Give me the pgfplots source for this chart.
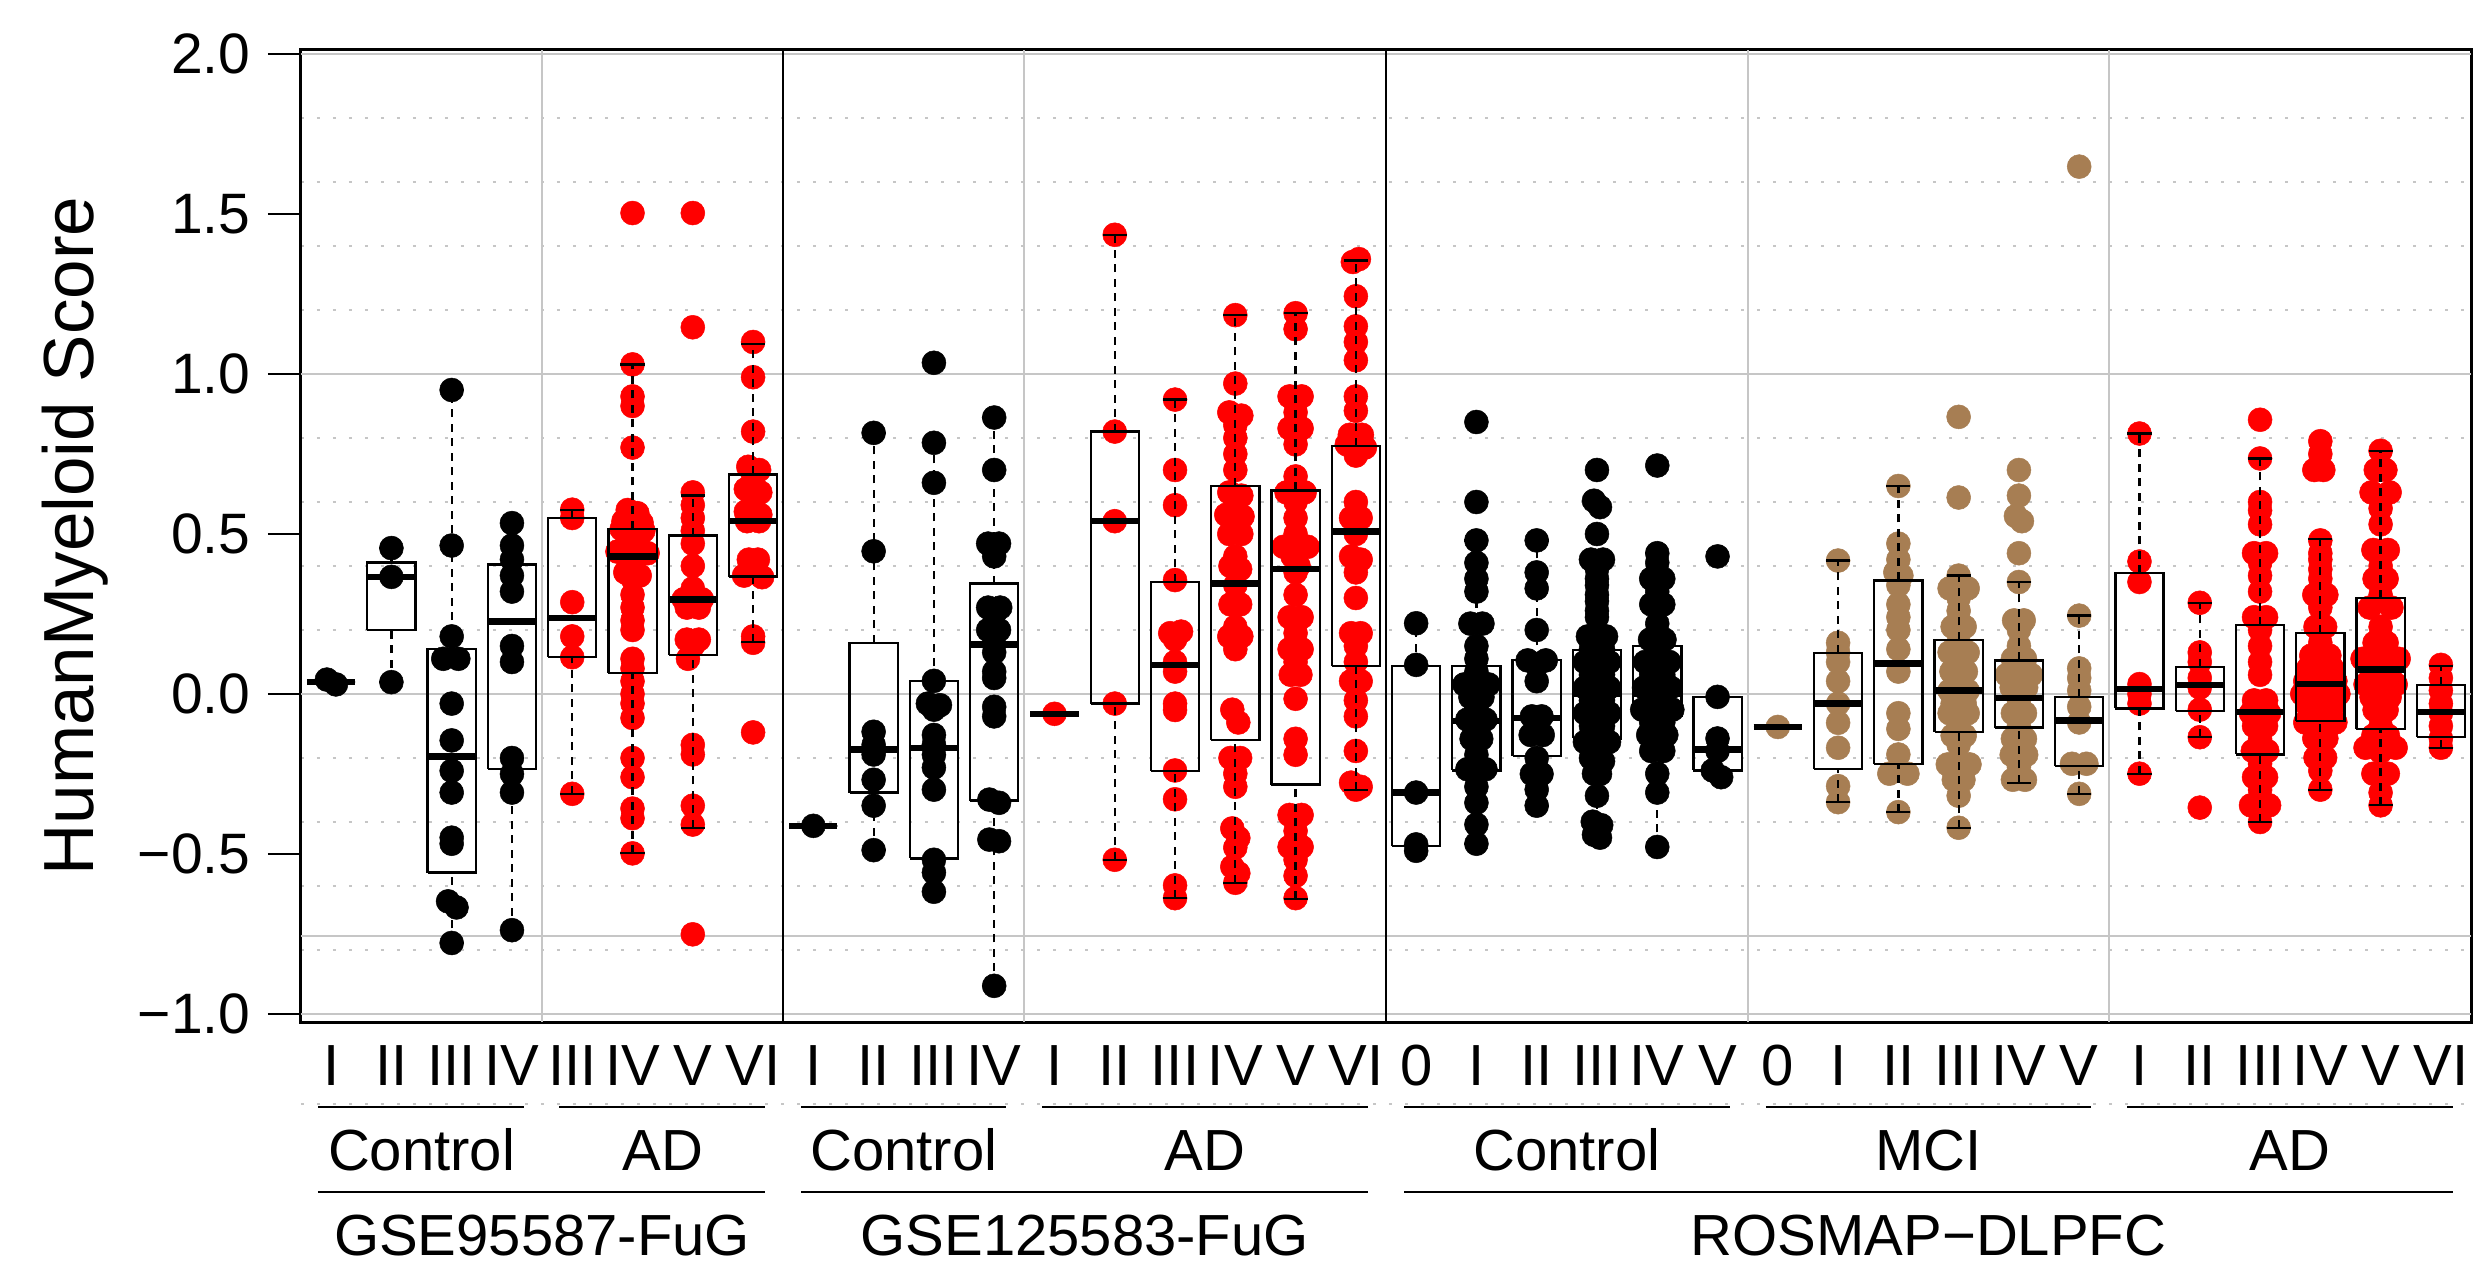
\documentclass[border=0pt]{standalone}
\usepackage{fontspec}
\setmainfont{Liberation Sans}
\usepackage{pgfplots}
\pgfplotsset{compat=1.18}
\definecolor{tanc}{RGB}{167,126,83}
\definecolor{redc}{RGB}{255,0,0}
\newcommand{\labfont}{\fontsize{11.6}{13.5}\selectfont}
\pgfplotsset{
  pts/.style={only marks, mark=*, mark size=2.4pt, color=#1, mark options={solid, fill=#1, draw=#1, line width=0.1pt}},
  bxs/.style={black, mark=none, solid, line width=0.45pt, line join=miter},
  bxw/.style={black, mark=none, line width=0.45pt, dash pattern=on 1.6pt off 1.3pt},
  bxm/.style={black, mark=none, solid, line width=1.3pt, line cap=butt},
}
% box: #1 position, #2 lower whisker, #3 lower quartile, #4 median, #5 upper quartile, #6 upper whisker
\newcommand{\bp}[6]{%
  \pgfmathsetmacro{\xa}{#1-0.4}\pgfmathsetmacro{\xb}{#1+0.4}%
  \pgfmathsetmacro{\ca}{#1-0.2}\pgfmathsetmacro{\cb}{#1+0.2}%
  \edef\tmp{%
    \noexpand\addplot[bxw] coordinates {(#1,#2) (#1,#3)};
    \noexpand\addplot[bxw] coordinates {(#1,#5) (#1,#6)};
    \noexpand\addplot[bxs] coordinates {(\ca,#2) (\cb,#2)};
    \noexpand\addplot[bxs] coordinates {(\ca,#6) (\cb,#6)};
    \noexpand\addplot[bxs] coordinates {(\xa,#3) (\xb,#3) (\xb,#5) (\xa,#5) (\xa,#3)};
    \noexpand\addplot[bxm] coordinates {(\xa,#4) (\xb,#4)};
  }\tmp}
\newcommand{\rl}[2]{\node[anchor=base, yshift=-12.6pt, font=\labfont, inner sep=0pt] at (axis cs:#1,-1.025) {#2};}
\newcommand{\gl}[3]{\draw[line width=0.4pt] ([yshift=-#3]axis cs:#1,-1.025) -- ([yshift=-#3]axis cs:#2,-1.025);}
\newcommand{\gt}[3]{\node[anchor=base, yshift=-#3, font=\labfont, inner sep=0pt] at (axis cs:#1,-1.025) {#2};}
\begin{document}
\begin{tikzpicture}
\useasboundingbox (-60.2pt,-50.2pt) rectangle (434.4pt,204.4pt);
\begin{axis}[
  at={(0,0)}, anchor=south west,
  scale only axis, width=434pt, height=194.4pt,
  xmin=0.5, xmax=36.5, ymin=-1.025, ymax=2.0125,
  axis line style={line width=0.6pt},
  xtick=\empty,
  ytick={-1,-0.5,0,0.5,1,1.5,2},
  yticklabels={−1.0,−0.5,0.0,0.5,1.0,1.5,2.0},
  ytick pos=left,
  tick align=outside, major tick length=6.6pt,
  tick style={black, line width=0.5pt},
  yticklabel style={font=\fontsize{11.4}{13}\selectfont},
  minor ytick={-0.8,-0.6,-0.4,-0.2,0.2,0.4,0.6,0.8,1.2,1.4,1.6,1.8},
  yminorgrids, minor tick length=0pt,
  minor grid style={gray!45, dash pattern=on 0.6pt off 2.6pt, line width=0.4pt},
  major grid style={gray!45, line width=0.45pt},
  extra y ticks={-1,-0.757,0,1,2}, extra y tick labels={},
  extra y tick style={grid=major, major tick length=0pt},
  extra x ticks={4.5,12.5,24.5,30.5}, extra x tick labels={},
  extra x tick style={grid=major, major tick length=0pt},
  clip mode=individual,
  ylabel={HumanMyeloid Score},
  ylabel style={font=\fontsize{14.2}{16}\selectfont, at={(axis description cs:-0.0954,0.5)}, anchor=base},
]
% dataset separators
\addplot[black, mark=none, line width=0.5pt] coordinates {(8.5,-2) (8.5,3)};
\addplot[black, mark=none, line width=0.5pt] coordinates {(18.5,-2) (18.5,3)};

% ---------- points: GSE95587-FuG ----------
\addplot[pts=black] coordinates {
(0.93,0.045) (1.08,0.03)
(2,0.456) (2,0.366) (2,0.037)
(3,0.95) (3,0.464) (3,0.18) (2.86,0.11) (3.11,0.11) (3,-0.03) (3,-0.145) (3,-0.24) (3,-0.308) (3,-0.449) (3,-0.468) (2.94,-0.648) (3.08,-0.667) (3,-0.778)
(4,0.534) (4,0.464) (4,0.42) (4,0.37) (4,0.32) (4,0.15) (4,0.10) (4,-0.2) (4,-0.25) (4,-0.308) (4,-0.738)
};
\addplot[pts=redc] coordinates {
(5,0.576) (5,0.55) (5,0.287) (5,0.18) (5,0.115) (5,-0.312)
(6,1.503) (6,1.03) (6,0.93) (6,0.90) (6,0.77) (5.92,0.575) (6.08,0.565) (5.85,0.54) (6,0.545) (6.15,0.535) (5.82,0.515) (6.18,0.51) (5.9,0.5) (6.1,0.49) (5.75,0.445) (6.25,0.44) (5.92,0.45) (6.08,0.43) (6,0.41) (5.88,0.38) (6.12,0.37) (6,0.36) (6,0.31) (6,0.27) (6,0.23) (6,0.2) (6,0.11) (6,0.08) (6,0.04) (6,0.0) (6,-0.03) (6,-0.075) (6,-0.2) (6,-0.26) (6,-0.358) (6,-0.388) (6,-0.498)
(7,1.503) (7,1.146) (7,0.63) (7,0.59) (7,0.55) (7,0.51) (7,0.47) (7,0.40) (7,0.33) (6.85,0.296) (7,0.29) (7.15,0.296) (6.9,0.27) (7.1,0.27) (6.9,0.17) (7.1,0.17) (7,0.15) (6.92,0.11) (7,-0.159) (7,-0.189) (7,-0.349) (7,-0.408) (7,-0.751)
(8,1.1) (8,0.99) (8,0.82) (7.92,0.71) (8.1,0.70) (8,0.67) (7.88,0.64) (8.12,0.63) (8,0.60) (7.88,0.57) (8.12,0.56) (7.9,0.54) (8.1,0.54) (7.93,0.42) (8.08,0.42) (7.85,0.37) (8.15,0.365) (8,0.18) (8,0.16) (8,-0.12)
};
% ---------- points: GSE125583-FuG ----------
\addplot[pts=black] coordinates {
(9,-0.412)
(10,0.816) (10,0.446) (10,-0.118) (10,-0.159) (10,-0.189) (10,-0.268) (10,-0.349) (10,-0.488)
(11,1.035) (11,0.785) (11,0.66) (11,0.041) (10.9,-0.03) (11.1,-0.035) (11,-0.049) (11,-0.128) (11,-0.158) (11,-0.19) (11,-0.23) (11,-0.299) (11,-0.518) (11,-0.558) (11,-0.618)
(12,0.864) (12,0.70) (11.9,0.47) (12.08,0.47) (12,0.43) (11.9,0.27) (12.1,0.27) (12,0.25) (11.9,0.20) (12.08,0.20) (12,0.18) (12,0.13) (12,0.07) (12,0.05) (12,-0.04) (12,-0.07) (11.92,-0.33) (12.08,-0.34) (11.92,-0.455) (12.08,-0.46) (12,-0.912)
};
\addplot[pts=redc] coordinates {
(13,-0.062)
(14,1.435) (14,0.82) (14,0.54) (14,-0.03) (14,-0.518)
(15,0.92) (15,0.70) (15,0.59) (15,0.356) (14.92,0.19) (15.1,0.195) (15,0.17) (15,0.10) (15,0.07) (15,-0.03) (15,-0.05) (15,-0.239) (15,-0.329) (15,-0.598) (15,-0.638)
(16,1.184) (16,0.97) (15.9,0.88) (16.1,0.87) (16,0.84) (16,0.80) (16,0.75) (16,0.70) (15.9,0.63) (16.1,0.62) (16,0.60) (15.85,0.56) (16.12,0.555) (16,0.53) (15.9,0.50) (16.1,0.50) (16,0.43) (15.92,0.40) (16.08,0.39) (16,0.34) (15.92,0.28) (16.08,0.28) (16,0.21) (15.9,0.18) (16.1,0.18) (16,0.14) (15.95,-0.049) (16.05,-0.089) (15.92,-0.20) (16.08,-0.20) (16,-0.249) (16,-0.29) (15.95,-0.42) (16.05,-0.45) (16,-0.48) (15.95,-0.54) (16.05,-0.56) (16,-0.59)
(17,1.19) (17,1.14) (16.9,0.93) (17.1,0.93) (17,0.88) (16.9,0.83) (17.1,0.83) (17,0.78) (17,0.68) (16.85,0.63) (17.15,0.63) (17,0.60) (17,0.55) (17,0.50) (16.8,0.46) (17.2,0.46) (16.95,0.43) (17.05,0.40) (17,0.38) (17,0.31) (16.9,0.24) (17.1,0.24) (17,0.19) (16.9,0.14) (17.1,0.14) (17,0.10) (16.92,0.06) (17.08,0.06) (17,-0.015) (17,-0.14) (17,-0.19) (16.9,-0.378) (17.1,-0.378) (17,-0.428) (16.9,-0.478) (17.1,-0.478) (17,-0.518) (17,-0.568) (17,-0.638)
(18.05,1.359) (17.95,1.35) (18,1.243) (18,1.149) (18,1.10) (18,1.043) (18,0.93) (18,0.885) (17.9,0.81) (18.1,0.81) (17.85,0.78) (18.15,0.77) (18,0.745) (18,0.60) (17.92,0.55) (18.08,0.55) (18,0.50) (17.92,0.43) (18.08,0.42) (18,0.38) (18,0.30) (17.92,0.19) (18.08,0.19) (18,0.15) (18,0.10) (17.92,0.04) (18.08,0.04) (18,-0.02) (18,-0.07) (18,-0.178) (17.92,-0.277) (18.08,-0.29) (18,-0.299)
};
% ---------- points: ROSMAP-DLPFC ----------
\addplot[pts=black] coordinates {
(19,0.221) (19,0.091) (19,-0.308) (19,-0.47) (19,-0.49)
(20,0.85) (20,0.60) (20,0.48) (20,0.41) (20,0.36) (20,0.32) (19.9,0.22) (20.1,0.22) (20,0.15) (20,0.11) (20,0.07) (19.8,0.03) (20,0.04) (20.2,0.03) (19.9,-0.01) (20.1,-0.01) (20,-0.04) (19.85,-0.08) (20.15,-0.08) (20,-0.09) (19.92,-0.14) (20.08,-0.14) (20,-0.19) (19.85,-0.235) (20.15,-0.235) (20,-0.25) (20,-0.29) (20,-0.34) (20,-0.408) (20,-0.468)
(21,0.48) (21,0.38) (21,0.33) (21,0.20) (20.85,0.105) (21.15,0.105) (21,0.09) (21,0.04) (20.92,-0.07) (21.08,-0.07) (20.9,-0.128) (21.1,-0.128) (21,-0.2) (20.92,-0.25) (21.08,-0.25) (21,-0.299) (21,-0.349)
(22,0.70) (21.95,0.604) (22.05,0.584) (22,0.50) (21.9,0.42) (22.1,0.42) (22,0.39) (22,0.36) (22,0.34) (22,0.31) (22,0.29) (22,0.26) (22,0.24) (21.85,0.18) (22.15,0.18) (22,0.17) (21.9,0.14) (22.1,0.14) (21.8,0.10) (22,0.10) (22.2,0.10) (21.9,0.06) (22.1,0.06) (21.8,0.02) (22,0.02) (22.2,0.02) (21.9,-0.02) (22.1,-0.02) (21.8,-0.06) (22,-0.06) (22.2,-0.06) (21.9,-0.10) (22.1,-0.10) (22,-0.14) (21.8,-0.15) (22.2,-0.15) (21.9,-0.20) (22.1,-0.21) (21.95,-0.249) (22.05,-0.25) (22,-0.318) (21.93,-0.399) (22.07,-0.41) (21.95,-0.44) (22.05,-0.449)
(23,0.714) (23,0.44) (23,0.41) (22.9,0.36) (23.1,0.36) (23,0.32) (22.9,0.28) (23.1,0.28) (23,0.22) (22.88,0.17) (23.12,0.17) (23,0.13) (22.8,0.10) (23,0.10) (23.2,0.10) (22.9,0.06) (23.1,0.06) (22.78,0.02) (23,0.02) (23.22,0.02) (22.9,-0.01) (23.1,-0.01) (22.75,-0.049) (23,-0.049) (23.25,-0.049) (22.9,-0.089) (23.1,-0.089) (22.85,-0.128) (23.15,-0.128) (23,-0.14) (22.9,-0.178) (23.1,-0.178) (23,-0.249) (23,-0.308) (23,-0.478)
(24,0.43) (24,-0.009) (24,-0.139) (24,-0.178) (23.92,-0.239) (24.06,-0.26)
};
\addplot[pts=tanc] coordinates {
(25,-0.103)
(26,0.417) (26,0.16) (26,0.13) (26,0.10) (26,0.04) (26,-0.03) (26,-0.09) (26,-0.168) (26,-0.288) (26,-0.338)
(27,0.65) (27,0.47) (27,0.42) (26.95,0.38) (27.05,0.37) (27,0.34) (27,0.28) (27,0.24) (27,0.20) (27,0.14) (27,0.07) (27,-0.06) (27,-0.109) (27,-0.189) (26.85,-0.249) (27.15,-0.249) (27,-0.369)
(28,0.866) (28,0.614) (28,0.37) (27.85,0.33) (28.15,0.33) (28,0.30) (28,0.26) (27.9,0.21) (28.1,0.21) (28,0.16) (27.85,0.13) (28.15,0.13) (28,0.10) (27.88,0.07) (28.12,0.07) (28,0.04) (27.85,0.01) (28.15,0.01) (28,0.0) (27.9,-0.03) (28.1,-0.03) (27.85,-0.06) (28.15,-0.06) (28,-0.10) (27.9,-0.13) (28.1,-0.13) (28,-0.159) (27.82,-0.22) (28.18,-0.22) (28,-0.23) (27.92,-0.268) (28.08,-0.268) (28,-0.318) (28,-0.418)
(29,0.70) (29,0.62) (28.95,0.556) (29.05,0.54) (29,0.44) (29,0.35) (28.92,0.23) (29.08,0.23) (29,0.20) (29,0.15) (28.9,0.11) (29.1,0.11) (28.8,0.06) (29,0.06) (29.2,0.06) (28.88,0.02) (29.12,0.02) (29,-0.02) (28.9,-0.06) (29.1,-0.06) (29,-0.10) (28.9,-0.14) (29.1,-0.14) (28.88,-0.19) (29.12,-0.19) (29,-0.228) (28.9,-0.268) (29.1,-0.268)
(30,1.648) (30,0.245) (30,0.08) (30,0.05) (30,0.011) (30,-0.04) (30,-0.089) (29.88,-0.218) (30.12,-0.218) (30,-0.312)
};
\addplot[pts=redc] coordinates {
(31,0.814) (31,0.414) (31,0.35) (31,0.031) (31,0.0) (31,-0.03) (31,-0.249)
(32,0.285) (32,0.13) (32,0.10) (32,0.05) (32,0.02) (32,-0.049) (32,-0.135) (32,-0.355)
(33,0.857) (33,0.736) (33,0.60) (33,0.574) (33,0.53) (32.9,0.44) (33.1,0.44) (33,0.41) (33,0.37) (33,0.32) (32.9,0.24) (33.1,0.24) (33,0.20) (33,0.15) (33,0.10) (33,0.06) (32.9,-0.02) (33.1,-0.02) (32.85,-0.06) (33,-0.06) (33.15,-0.06) (32.9,-0.10) (33.1,-0.10) (33,-0.14) (32.88,-0.178) (33.12,-0.178) (33,-0.218) (32.9,-0.26) (33.1,-0.26) (33,-0.3) (32.85,-0.348) (33.15,-0.348) (33,-0.4)
(34,0.79) (34,0.75) (33.9,0.70) (34.05,0.70) (34,0.48) (34,0.44) (34,0.42) (34,0.39) (34,0.36) (33.9,0.31) (34.1,0.31) (34,0.27) (33.92,0.21) (34.08,0.21) (34,0.16) (33.85,0.12) (34.15,0.12) (33.8,0.08) (34,0.08) (34.2,0.08) (33.75,0.04) (34.25,0.04) (33.9,0.04) (34.1,0.04) (33.7,0.0) (34,0.0) (34.3,0.0) (33.8,-0.04) (34.2,-0.04) (34,-0.04) (33.75,-0.089) (34.25,-0.089) (33.95,-0.089) (33.9,-0.139) (34.1,-0.139) (33.92,-0.199) (34.08,-0.199) (34,-0.24) (34,-0.299)
(35,0.76) (34.92,0.70) (35.08,0.70) (34.85,0.63) (35.15,0.63) (35,0.58) (35,0.53) (34.88,0.45) (35.12,0.45) (35,0.40) (34.9,0.36) (35.1,0.36) (35,0.31) (34.82,0.27) (35.18,0.27) (35,0.21) (34.9,0.16) (35.1,0.16) (34.7,0.11) (35,0.11) (35.3,0.11) (34.85,0.07) (35.15,0.07) (34.75,0.03) (35,0.03) (35.25,0.03) (34.85,-0.01) (35.15,-0.01) (34.9,-0.05) (35.1,-0.05) (35,-0.10) (34.88,-0.13) (35.12,-0.13) (34.75,-0.168) (35.25,-0.168) (35,-0.18) (34.88,-0.249) (35.12,-0.249) (35,-0.308) (35,-0.348)
(36,0.091) (36,0.05) (36,0.011) (36,-0.03) (36,-0.06) (36,-0.10) (36,-0.139) (36,-0.168)
};

% ---------- boxes ----------
\bp{1}{0.037}{0.037}{0.037}{0.037}{0.037}
\bp{2}{0.037}{0.2}{0.366}{0.411}{0.456}
\bp{3}{-0.778}{-0.558}{-0.195}{0.14}{0.95}
\bp{4}{-0.738}{-0.234}{0.227}{0.405}{0.534}
\bp{5}{-0.312}{0.115}{0.237}{0.55}{0.576}
\bp{6}{-0.498}{0.065}{0.43}{0.516}{1.03}
\bp{7}{-0.418}{0.121}{0.295}{0.495}{0.62}
\bp{8}{0.162}{0.367}{0.54}{0.686}{1.093}
\bp{9}{-0.412}{-0.412}{-0.412}{-0.412}{-0.412}
\bp{10}{-0.488}{-0.308}{-0.174}{0.16}{0.816}
\bp{11}{-0.618}{-0.514}{-0.168}{0.041}{0.785}
\bp{12}{-0.912}{-0.333}{0.155}{0.345}{0.864}
\bp{13}{-0.062}{-0.062}{-0.062}{-0.062}{-0.062}
\bp{14}{-0.518}{-0.03}{0.54}{0.82}{1.435}
\bp{15}{-0.638}{-0.24}{0.091}{0.35}{0.92}
\bp{16}{-0.59}{-0.143}{0.346}{0.65}{1.184}
\bp{17}{-0.64}{-0.283}{0.39}{0.636}{1.19}
\bp{18}{-0.3}{0.087}{0.508}{0.776}{1.355}
\bp{19}{-0.49}{-0.474}{-0.308}{0.087}{0.221}
\bp{20}{-0.468}{-0.239}{-0.084}{0.087}{0.48}
\bp{21}{-0.349}{-0.193}{-0.075}{0.107}{0.48}
\bp{22}{-0.449}{-0.139}{0.001}{0.137}{0.43}
\bp{23}{-0.478}{-0.069}{0.0}{0.151}{0.44}
\bp{24}{-0.26}{-0.239}{-0.174}{-0.009}{-0.009}
\bp{25}{-0.103}{-0.103}{-0.103}{-0.103}{-0.103}
\bp{26}{-0.338}{-0.234}{-0.03}{0.129}{0.417}
\bp{27}{-0.369}{-0.218}{0.095}{0.355}{0.65}
\bp{28}{-0.418}{-0.119}{0.011}{0.169}{0.37}
\bp{29}{-0.278}{-0.105}{-0.012}{0.105}{0.35}
\bp{30}{-0.312}{-0.224}{-0.083}{-0.009}{0.245}
\bp{31}{-0.249}{-0.045}{0.015}{0.377}{0.814}
\bp{32}{-0.135}{-0.053}{0.028}{0.085}{0.285}
\bp{33}{-0.4}{-0.189}{-0.056}{0.215}{0.736}
\bp{34}{-0.3}{-0.084}{0.031}{0.19}{0.484}
\bp{35}{-0.348}{-0.109}{0.077}{0.30}{0.76}
\bp{36}{-0.168}{-0.134}{-0.056}{0.027}{0.087}

% ---------- category labels ----------
\rl{1}{I}\rl{2}{II}\rl{3}{III}\rl{4}{IV}\rl{5}{III}\rl{6}{IV}\rl{7}{V}\rl{8}{VI}
\rl{9}{I}\rl{10}{II}\rl{11}{III}\rl{12}{IV}\rl{13}{I}\rl{14}{II}\rl{15}{III}\rl{16}{IV}\rl{17}{V}\rl{18}{VI}
\rl{19}{0}\rl{20}{I}\rl{21}{II}\rl{22}{III}\rl{23}{IV}\rl{24}{V}
\rl{25}{0}\rl{26}{I}\rl{27}{II}\rl{28}{III}\rl{29}{IV}\rl{30}{V}
\rl{31}{I}\rl{32}{II}\rl{33}{III}\rl{34}{IV}\rl{35}{V}\rl{36}{VI}
\draw[gray!45, dash pattern=on 0.6pt off 2.6pt, line width=0.4pt] ([yshift=-16.4pt]rel axis cs:0,0) -- ([yshift=-16.4pt]rel axis cs:1,0);
\gl{0.78}{4.2}{17pt}\gl{4.78}{8.2}{17pt}
\gl{8.8}{12.2}{17pt}\gl{12.8}{18.2}{17pt}
\gl{18.8}{24.2}{17pt}\gl{24.8}{30.2}{17pt}\gl{30.8}{36.2}{17pt}
\gt{2.5}{Control}{29.6pt}\gt{6.5}{AD}{29.6pt}
\gt{10.5}{Control}{29.6pt}\gt{15.5}{AD}{29.6pt}
\gt{21.5}{Control}{29.6pt}\gt{27.5}{MCI}{29.6pt}\gt{33.5}{AD}{29.6pt}
\gl{0.78}{8.2}{34pt}\gl{8.8}{18.2}{34pt}\gl{18.8}{36.2}{34pt}
\gt{4.5}{GSE95587-FuG}{46.6pt}\gt{13.5}{GSE125583-FuG}{46.6pt}\gt{27.5}{ROSMAP−DLPFC}{46.6pt}
\end{axis}
\end{tikzpicture}
\end{document}
